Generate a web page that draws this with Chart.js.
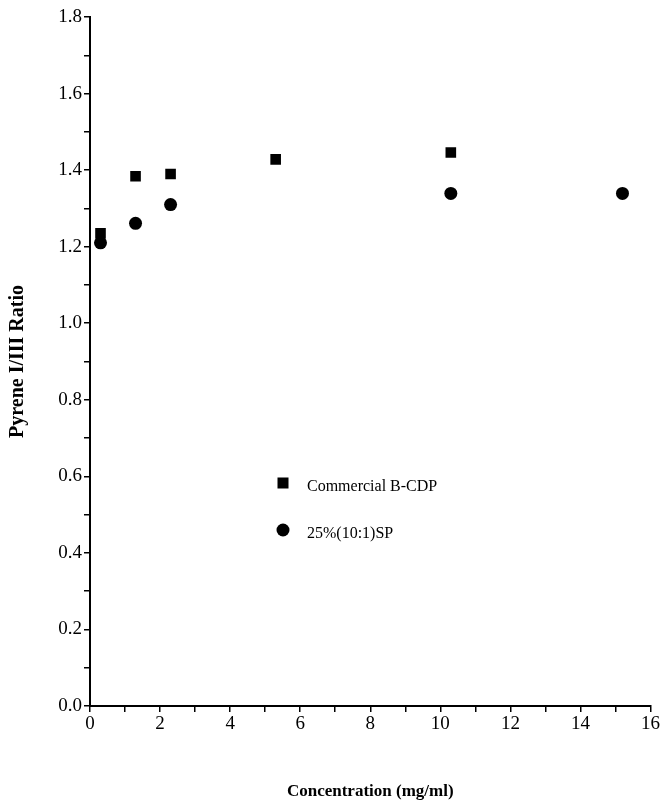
<!DOCTYPE html>
<html><head><meta charset="utf-8">
<script src="https://cdn.jsdelivr.net/npm/chart.js@4/dist/chart.umd.min.js"></script>
<style>html,body{margin:0;padding:0;background:#fff}#wrap{width:661px;height:805px}</style>
</head><body><div id="wrap"><canvas id="c" width="661" height="805"></canvas></div>
<script>
const seriesNames = ["Commercial B-CDP", "25%(10:1)SP"];
const commercialX = [0.3, 1.3, 2.3, 5.3, 10.3];
const commercialY = [1.235, 1.384, 1.39, 1.428, 1.446];
const spX = [0.3, 1.3, 2.3, 10.3, 15.2];
const spY = [1.21, 1.261, 1.31, 1.339, 1.339];
const xTickLabels = [0, 2, 4, 6, 8, 10, 12, 14, 16];
const yTickLabels = [0.0, 0.2, 0.4, 0.6, 0.8, 1.0, 1.2, 1.4, 1.6, 1.8];
const xTitle = "Concentration (mg/ml)";
const yTitle = "Pyrene I/III Ratio";

const FONT = "'Liberation Serif','DejaVu Serif',serif";
const toPts = (xs, ys) => xs.map((x, i) => ({x: x, y: ys[i]}));

const legendPlugin = {
  id: 'inlineLegend',
  afterDatasetsDraw(chart) {
    const ctx = chart.ctx;
    const items = [
      {style: 'rect', label: seriesNames[0], dy: 483},
      {style: 'circle', label: seriesNames[1], dy: 530}
    ];
    ctx.save();
    ctx.fillStyle = '#000';
    ctx.font = "16px " + FONT;
    ctx.textBaseline = 'middle';
    items.forEach(it => {
      const px = 283, py = it.dy;
      if (it.style === 'rect') {
        ctx.fillRect(px - 5.5, py - 5.5, 11, 11);
      } else {
        ctx.beginPath(); ctx.arc(px, py, 6.5, 0, Math.PI * 2); ctx.fill();
      }
      ctx.fillText(it.label, 307, py + 4);
    });
    ctx.restore();
  }
};

new Chart(document.getElementById('c'), {
  type: 'scatter',
  data: {
    datasets: [
      {label: seriesNames[0], data: toPts(commercialX, commercialY), pointStyle: 'rect', pointRadius: 7.5, backgroundColor: '#000', borderColor: '#000', borderWidth: 0},
      {label: seriesNames[1], data: toPts(spX, spY), pointStyle: 'circle', pointRadius: 6.5, backgroundColor: '#000', borderColor: '#000', borderWidth: 0}
    ]
  },
  options: {
    responsive: false,
    animation: false,
    layout: {padding: {top: 17, right: 10, left: 6, bottom: 0}},
    plugins: {legend: {display: false}, tooltip: {enabled: false}},
    scales: {
      x: {
        type: 'linear', min: 0, max: 16,
        afterFit: s => { s.height = 99; },
        border: {display: true, color: '#000', width: 2},
        grid: {drawOnChartArea: false, drawTicks: true, tickLength: 6, color: '#000', lineWidth: 1.5},
        ticks: {stepSize: 1, autoSkip: false, maxRotation: 0, color: '#000', padding: 1,
          font: {family: FONT, size: 19},
          callback: v => xTickLabels.includes(v) ? String(v) : ''},
        title: {display: true, text: xTitle, color: '#000', font: {family: FONT, size: 17, weight: 'bold'}, padding: {top: 31, bottom: 3}}
      },
      y: {
        type: 'linear', min: 0, max: 1.8,
        afterFit: s => { s.width = 84; },
        border: {display: true, color: '#000', width: 2},
        grid: {drawOnChartArea: false, drawTicks: true, tickLength: 6, color: '#000', lineWidth: 1.5},
        ticks: {stepSize: 0.1, autoSkip: false, color: '#000', padding: 2,
          font: {family: FONT, size: 19},
          callback: v => { const r = Math.round(v * 10) / 10; return yTickLabels.some(t => Math.abs(t - r) < 1e-6) ? r.toFixed(1) : ''; }},
        title: {display: true, text: yTitle, color: '#000', font: {family: FONT, size: 20, weight: 'bold'}, padding: {top: 0, bottom: 10}}
      }
    }
  },
  plugins: [legendPlugin]
});
</script></body></html>
